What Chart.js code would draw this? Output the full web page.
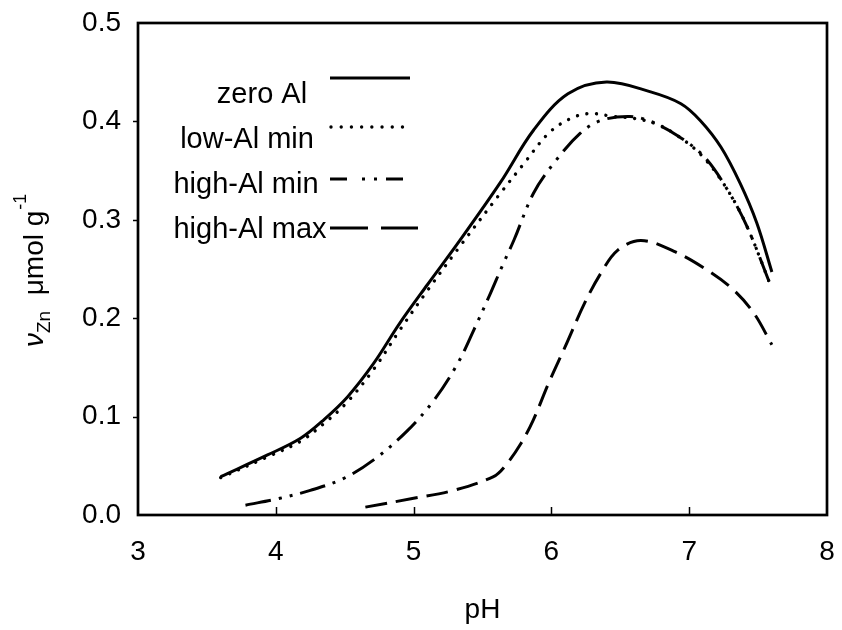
<!DOCTYPE html>
<html>
<head>
<meta charset="utf-8">
<script src="https://cdn.jsdelivr.net/npm/chart.js@4"></script>
<style>
  html, body { margin: 0; padding: 0; background: #fff; }
  #wrap { width: 842px; height: 630px; }
</style>
</head>
<body>
<div id="wrap"><canvas id="c" width="842" height="630"></canvas></div>
<script>
// ---- data ----
const seriesNames = ["zero Al", "low-Al min", "high-Al min", "high-Al max"];

const phZero = [3.6, 3.94, 4.18, 4.35, 4.52, 4.71, 4.9, 5.1, 5.32, 5.63, 5.87, 6.12, 6.4, 6.72, 6.94, 7.08, 7.23, 7.37, 7.49, 7.6];
const vZero  = [0.039, 0.061, 0.078, 0.097, 0.120, 0.154, 0.195, 0.234, 0.276, 0.338, 0.391, 0.428, 0.440, 0.430, 0.418, 0.401, 0.374, 0.337, 0.297, 0.247];

const phLowMin = [3.6, 3.94, 4.18, 4.35, 4.52, 4.71, 4.9, 5.1, 5.32, 5.63, 5.8, 5.98, 6.14, 6.28, 6.45, 6.6, 6.75, 6.91, 7.1, 7.28, 7.42, 7.6];
const vLowMin  = [0.038, 0.059, 0.075, 0.093, 0.115, 0.148, 0.188, 0.228, 0.270, 0.327, 0.357, 0.388, 0.403, 0.408, 0.405, 0.403, 0.398, 0.386, 0.364, 0.330, 0.293, 0.230];

const phHighMin = [3.78, 4.03, 4.25, 4.49, 4.71, 4.95, 5.15, 5.32, 5.44, 5.56, 5.64, 5.73, 5.87, 6.02, 6.21, 6.36, 6.57, 6.72, 6.91, 7.11, 7.28, 7.42, 7.6];
const vHighMin  = [0.010, 0.017, 0.025, 0.037, 0.056, 0.085, 0.117, 0.154, 0.189, 0.226, 0.252, 0.280, 0.327, 0.358, 0.388, 0.401, 0.405, 0.400, 0.386, 0.364, 0.330, 0.293, 0.230];

const phHighMax = [4.65, 5.0, 5.29, 5.58, 5.66, 5.78, 5.87, 5.98, 6.1, 6.24, 6.36, 6.48, 6.65, 6.89, 7.13, 7.32, 7.47, 7.6];
const vHighMax  = [0.008, 0.017, 0.025, 0.039, 0.049, 0.073, 0.097, 0.134, 0.171, 0.215, 0.246, 0.269, 0.279, 0.268, 0.249, 0.229, 0.205, 0.173];

const xTicks = [3, 4, 5, 6, 7, 8];
const yTicks = [0.0, 0.1, 0.2, 0.3, 0.4, 0.5];
const xTitle = "pH";

// ---- styles ----
const FONT = "'Liberation Sans', Arial, sans-serif";
const dashStyles = [[], [0.01, 9.6], [26, 8, 3, 8, 3, 8], [22, 9]];
const capStyles = ["butt", "round", "butt", "butt"];
const lineWidths = [3, 3.4, 3, 3];

function pts(xs, ys) { return xs.map((x, i) => ({ x: x, y: ys[i] })); }
const allX = [phZero, phLowMin, phHighMin, phHighMax];
const allY = [vZero, vLowMin, vHighMin, vHighMax];

const datasets = seriesNames.map((n, i) => ({
  label: n,
  data: pts(allX[i], allY[i]),
  showLine: true,
  borderColor: "#000",
  backgroundColor: "#000",
  borderWidth: lineWidths[i],
  borderDash: dashStyles[i],
  borderCapStyle: capStyles[i],
  borderJoinStyle: "round",
  pointRadius: 0,
  pointHoverRadius: 0,
  tension: 0.35,
  fill: false
}));

// legend layout (sample line + text)
const legendRows = [
  { textX: 262, textY: 103, lineY: 78,  x0: 330, x1: 410, dash: [], cap: "butt", w: 3.2 },
  { textX: 247, textY: 148, lineY: 127, x0: 331, x1: 405, dash: [0.01, 10.2], cap: "round", w: 3.4 },
  { textX: 246, textY: 193, lineY: 179, x0: 330, x1: 410, dash: [17, 15, 3, 9, 3, 9], cap: "butt", w: 3.2 },
  { textX: 250, textY: 238, lineY: 228, x0: 330, x1: 418, dash: [38, 13], cap: "butt", w: 3.2 }
];

const decor = {
  id: "decor",
  afterDraw(chart) {
    const ctx = chart.ctx;
    const a = chart.chartArea;
    const xs = chart.scales.x, ys = chart.scales.y;
    ctx.save();
    // frame
    ctx.strokeStyle = "#000";
    ctx.lineWidth = 2.7;
    ctx.setLineDash([]);
    ctx.strokeRect(a.left, a.top, a.right - a.left, a.bottom - a.top);
    // ticks
    ctx.lineWidth = 1.5;
    xTicks.forEach(v => {
      if (v <= xs.min || v >= xs.max) return;
      const p = Math.round(xs.getPixelForValue(v)) + 0.5;
      ctx.beginPath(); ctx.moveTo(p, a.bottom); ctx.lineTo(p, a.bottom - 8); ctx.stroke();
    });
    yTicks.forEach(v => {
      if (v <= ys.min || v >= ys.max) return;
      const p = Math.round(ys.getPixelForValue(v)) + 0.5;
      ctx.beginPath(); ctx.moveTo(a.left, p); ctx.lineTo(a.left - 5, p); ctx.stroke();
    });
    // x title
    ctx.fillStyle = "#000";
    ctx.font = "28px " + FONT;
    ctx.textAlign = "center";
    ctx.textBaseline = "alphabetic";
    ctx.fillText(xTitle, (a.left + a.right) / 2, 618);
    // legend
    legendRows.forEach((r, i) => {
      ctx.font = "29px " + FONT;
      ctx.textAlign = "center";
      ctx.fillText(seriesNames[i], r.textX, r.textY);
      ctx.beginPath();
      ctx.lineWidth = r.w;
      ctx.lineCap = r.cap;
      ctx.setLineDash(r.dash);
      ctx.moveTo(r.x0, r.lineY); ctx.lineTo(r.x1, r.lineY);
      ctx.stroke();
    });
    ctx.setLineDash([]);
    ctx.lineCap = "butt";
    // y title (rotated, with sub/superscripts)
    ctx.translate(43, 347);
    ctx.rotate(-Math.PI / 2);
    ctx.textAlign = "left";
    let x = 0;
    ctx.font = "italic 28px " + FONT;
    ctx.fillText("\u03BD", x, 0); x += ctx.measureText("\u03BD").width;
    ctx.font = "19px " + FONT;
    ctx.fillText("Zn", x, 7); x += ctx.measureText("Zn").width;
    ctx.font = "28px " + FONT;
    const mid = "  \u03BCmol g";
    ctx.fillText(mid, x, 0); x += ctx.measureText(mid).width;
    ctx.font = "18px " + FONT;
    ctx.fillText("-1", x + 1, -17);
    ctx.restore();
  }
};

new Chart(document.getElementById("c"), {
  type: "scatter",
  data: { datasets: datasets },
  options: {
    responsive: false,
    animation: false,
    devicePixelRatio: 1,
    layout: { padding: { left: 0, top: 23, right: 15, bottom: 0 } },
    plugins: { legend: { display: false }, tooltip: { enabled: false }, title: { display: false } },
    scales: {
      x: {
        type: "linear", min: 3, max: 8,
        afterFit: s => { s.height = 115; s.paddingLeft = 0; s.paddingRight = 0; },
        afterBuildTicks: s => { s.ticks = xTicks.map(v => ({ value: v })); },
        grid: { display: false, drawTicks: false },
        border: { display: false },
        ticks: { color: "#000", font: { size: 28, family: FONT }, padding: 20, maxRotation: 0,
                 callback: v => String(v) }
      },
      y: {
        type: "linear", min: 0, max: 0.5,
        afterFit: s => { s.width = 138; s.paddingTop = 0; s.paddingBottom = 0; },
        afterBuildTicks: s => { s.ticks = yTicks.map(v => ({ value: v })); },
        grid: { display: false, drawTicks: false },
        border: { display: false },
        ticks: { color: "#000", font: { size: 28, family: FONT }, padding: 17,
                 callback: v => Number(v).toFixed(1) }
      }
    }
  },
  plugins: [decor]
});
</script>
</body>
</html>
